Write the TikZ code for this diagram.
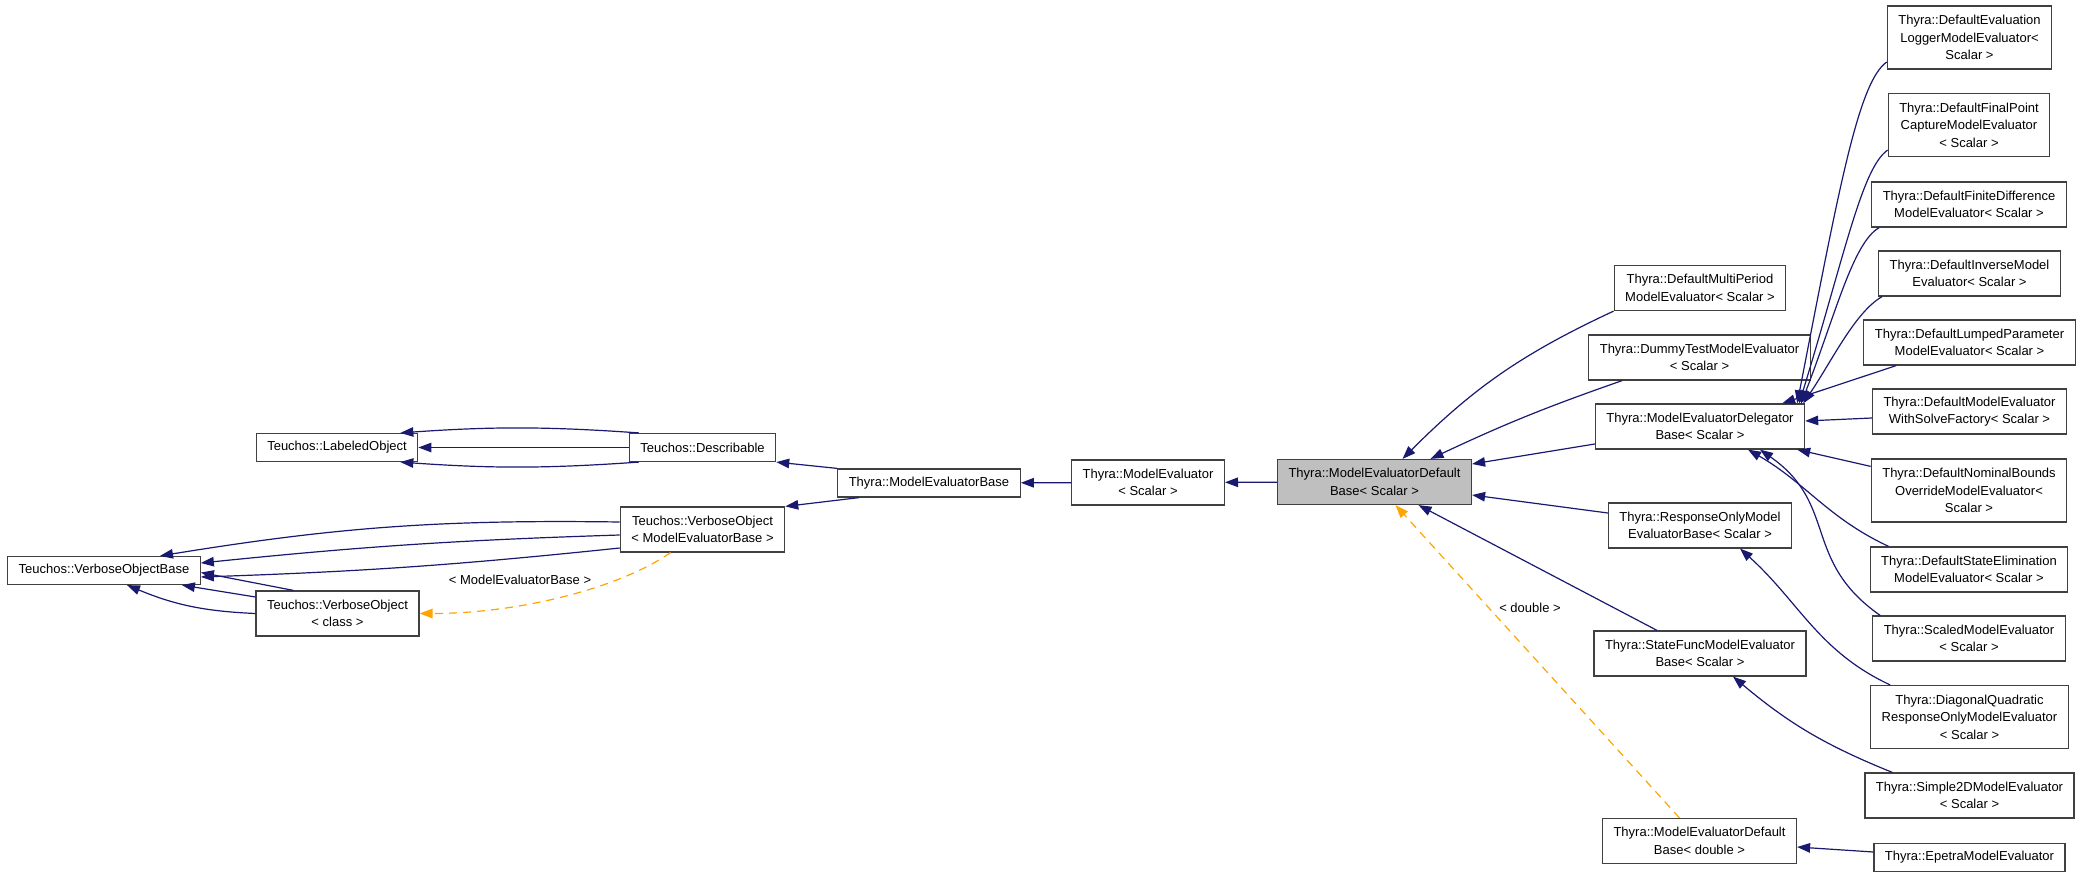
\documentclass[tikz,border=0pt]{standalone}
\usepackage{fontspec}
\setmainfont{Liberation Sans}
\usetikzlibrary{arrows.meta}

\definecolor{inhblue}{HTML}{191970}
\definecolor{tplorange}{HTML}{FFA500}
\definecolor{curgray}{HTML}{BFBFBF}

\tikzset{
	cls/.style={draw=black!75, line width=1.2pt, fill=white, align=center,
		inner xsep=11pt, inner ysep=0pt, minimum height=#1,
		font=\fontsize{13}{17.5}\selectfont},
	cls/.default=45pt,
	inh/.style={color=inhblue, line width=1.2pt, -{Triangle[length=13pt,width=9.5pt]}},
	tpl/.style={color=tplorange, line width=1.2pt, dash pattern=on 8pt off 6pt,
		-{Triangle[length=13pt,width=9.5pt]}},
	lbl/.style={inner sep=0pt, font=\fontsize{13}{17.5}\selectfont}
}

\begin{document}
\begin{tikzpicture}[x=1pt, y=1pt]
	\useasboundingbox (0,0) rectangle (2080,-877);

	% Teuchos side
	\node[cls=28pt] (lo) at (337,-447.5) {Teuchos::LabeledObject};
	\node[cls=28pt] (desc) at (702.5,-447.5) {Teuchos::Describable};
	\node[cls=28pt] (vob) at (104,-570.5) {Teuchos::VerboseObjectBase};
	\node[cls] (vomeb) at (702.5,-529.5) {Teuchos::VerboseObject\\< ModelEvaluatorBase >};
	\node[cls] (vocls) at (337.5,-613.5) {Teuchos::VerboseObject\\< class >};

	% main chain
	\node[cls=28pt] (meb) at (929,-483) {Thyra::ModelEvaluatorBase};
	\node[cls] (me) at (1148,-482.5) {Thyra::ModelEvaluator\\< Scalar >};
	\node[cls, fill=curgray] (medb) at (1374.5,-482) {Thyra::ModelEvaluatorDefault\\Base< Scalar >};

	% middle column
	\node[cls] (multi) at (1700,-288) {Thyra::DefaultMultiPeriod\\ModelEvaluator< Scalar >};
	\node[cls] (dummy) at (1699.5,-357.5) {Thyra::DummyTestModelEvaluator\\< Scalar >};
	\node[cls] (deleg) at (1700,-426.5) {Thyra::ModelEvaluatorDelegator\\Base< Scalar >};
	\node[cls] (resp) at (1700,-525.5) {Thyra::ResponseOnlyModel\\EvaluatorBase< Scalar >};
	\node[cls] (sfunc) at (1700,-653.5) {Thyra::StateFuncModelEvaluator\\Base< Scalar >};
	\node[cls] (medbd) at (1699.5,-841) {Thyra::ModelEvaluatorDefault\\Base< double >};

	% right column
	\node[cls=63pt] (logger) at (1969.5,-37.5) {Thyra::DefaultEvaluation\\LoggerModelEvaluator<\\Scalar >};
	\node[cls=63pt] (final) at (1969,-125) {Thyra::DefaultFinalPoint\\CaptureModelEvaluator\\< Scalar >};
	\node[cls] (fdiff) at (1969,-204.5) {Thyra::DefaultFiniteDifference\\ModelEvaluator< Scalar >};
	\node[cls] (inverse) at (1969.5,-273.5) {Thyra::DefaultInverseModel\\Evaluator< Scalar >};
	\node[cls] (lumped) at (1969.5,-342.5) {Thyra::DefaultLumpedParameter\\ModelEvaluator< Scalar >};
	\node[cls] (solve) at (1969.5,-411.5) {Thyra::DefaultModelEvaluator\\WithSolveFactory< Scalar >};
	\node[cls=63pt] (nominal) at (1969,-490.5) {Thyra::DefaultNominalBounds\\OverrideModelEvaluator<\\Scalar >};
	\node[cls] (stelim) at (1969,-569.5) {Thyra::DefaultStateElimination\\ModelEvaluator< Scalar >};
	\node[cls] (scaled) at (1969,-638.5) {Thyra::ScaledModelEvaluator\\< Scalar >};
	\node[cls=63pt] (diag) at (1969.5,-717) {Thyra::DiagonalQuadratic\\ResponseOnlyModelEvaluator\\< Scalar >};
	\node[cls] (simple) at (1969.5,-795.5) {Thyra::Simple2DModelEvaluator\\< Scalar >};
	\node[cls=28pt] (epetra) at (1969.5,-857.5) {Thyra::EpetraModelEvaluator};

	% Teuchos edges
	\path[inh] (desc) edge (lo);
	\path[inh] ([xshift=10pt]desc.north west) edge [bend right=4] ([xshift=-18pt]lo.north east);
	\path[inh] ([xshift=10pt]desc.south west) edge [bend left=4] ([xshift=-18pt]lo.south east);
	\path[inh] (meb.north west) edge (desc.south east);
	\path[inh] ([xshift=22pt]meb.south west) edge (vomeb.north east);
	\path[inh] ([yshift=7.5pt]vomeb.west) edge [bend right=5] ([xshift=56pt]vob.north);
	\path[inh] ([yshift=-5.5pt]vomeb.west) edge [bend right=2] ([yshift=7.5pt]vob.east);
	\path[inh] ([yshift=-18.5pt]vomeb.west) edge [bend left=2] ([yshift=-6.5pt]vob.east);
	\path[inh] ([xshift=38pt]vocls.north west) edge ([yshift=-2pt]vob.east);
	\path[inh] ([yshift=16.5pt]vocls.west) edge ([xshift=-19pt]vob.south east);
	\path[inh] (vocls.west) edge [bend left=10] ([xshift=23pt]vob.south);
	\path[tpl] ([xshift=-32pt]vomeb.south) edge [out=215, in=0, out looseness=0.6] (vocls.east);
	\node[lbl] (lmeb) at (520,-580) {< ModelEvaluatorBase >};

	% main chain edges
	\path[inh] (me) edge (meb);
	\path[inh] (medb) edge (me);

	% into the default base
	\path[inh] (multi.south west) edge [bend right=10] ([xshift=28pt]medb.north);
	\path[inh] ([xshift=34pt]dummy.south west) edge [bend right=3] ([xshift=56pt]medb.north);
	\path[inh] ([yshift=-17.5pt]deleg.west) edge ([yshift=18pt]medb.east);
	\path[inh] ([yshift=12.5pt]resp.west) edge ([yshift=-13pt]medb.east);
	\path[inh] ([xshift=-43pt]sfunc.north) edge ([xshift=44pt]medb.south);
	\path[tpl] ([xshift=-20pt]medbd.north) edge ([xshift=21pt]medb.south);
	\node[lbl] (ldbl) at (1530,-608) {< double >};

	% into the delegator base
	\path[inh] ([yshift=-24.5pt]logger.west) edge [out=215, in=79, out looseness=0.25, in looseness=1.6] ([xshift=-8pt]deleg.north east);
	\path[inh] ([yshift=-25pt]final.west) edge [out=215, in=73, out looseness=0.3, in looseness=1.5] ([xshift=-6pt]deleg.north east);
	\path[inh] ([xshift=8pt]fdiff.south west) edge [out=210, in=69, out looseness=0.4, in looseness=1.3] ([xshift=-4pt]deleg.north east);
	\path[inh] ([xshift=4pt]inverse.south west) edge [out=210, in=56, out looseness=0.6] ([xshift=-2pt]deleg.north east);
	\path[inh] ([xshift=33pt]lumped.south west) edge ([xshift=-23pt]deleg.north east);
	\path[inh] ([yshift=-6.5pt]solve.west) edge ([yshift=5.5pt]deleg.east);
	\path[inh] ([yshift=-8pt]nominal.north west) edge ([xshift=-8pt]deleg.south east);
	\path[inh] ([xshift=19pt]stelim.north west) edge [out=155, in=-30] ([xshift=48pt]deleg.south);
	\path[inh] ([xshift=8pt]scaled.north west) edge [out=145, in=-35, looseness=1.2] ([xshift=60pt]deleg.south);

	% the rest
	\path[inh] ([xshift=20pt]diag.north west) edge [out=155, in=-42] ([xshift=40pt]resp.south);
	\path[inh] ([xshift=28pt]simple.north west) edge [out=158, in=-40] ([xshift=33pt]sfunc.south);
	\path[inh] ([yshift=5.5pt]epetra.west) edge ([yshift=-6pt]medbd.east);

\end{tikzpicture}
\end{document}
